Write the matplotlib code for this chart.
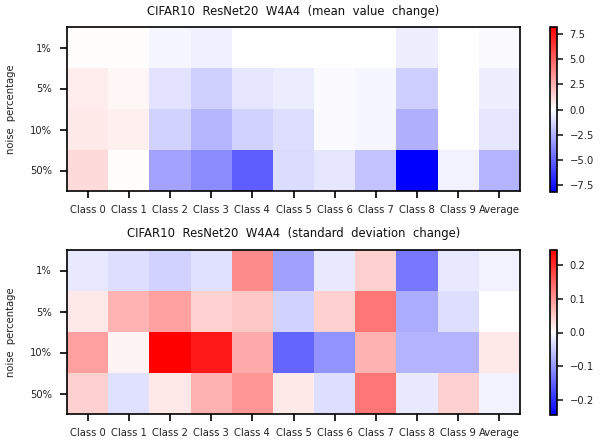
import numpy as np
import matplotlib
matplotlib.use("Agg")
import matplotlib.pyplot as plt

classes = ["Class 0", "Class 1", "Class 2", "Class 3", "Class 4", "Class 5",
           "Class 6", "Class 7", "Class 8", "Class 9", "Average"]
noise = ["1%", "5%", "10%", "50%"]

mean_1 = [0.1, 0.1, -0.3, -0.5, 0.0, 0.0, 0.0, 0.05, -0.55, 0.05, -0.15]
mean_5 = [0.6, 0.3, -0.87, -1.5, -0.8, -0.6, -0.15, -0.3, -1.6, 0.05, -0.55]
mean_10 = [0.65, 0.5, -1.45, -2.35, -1.45, -1.05, -0.15, -0.3, -2.5, 0.05, -0.8]
mean_50 = [1.2, 0.1, -2.9, -3.7, -5.15, -1.1, -0.8, -1.9, -8.2, -0.4, -2.4]

std_1 = [-0.022, -0.031, -0.043, -0.029, 0.11, -0.09, -0.022, 0.045, -0.129, -0.022, -0.012]
std_5 = [0.022, 0.071, 0.09, 0.043, 0.052, -0.043, 0.045, 0.13, -0.079, -0.031, 0.0]
std_10 = [0.09, 0.01, 0.243, 0.22, 0.081, -0.148, -0.102, 0.073, -0.071, -0.071, 0.022]
std_50 = [0.045, -0.029, 0.022, 0.073, 0.1, 0.019, -0.031, 0.13, -0.019, 0.045, -0.012]

mean_data = np.array([mean_1, mean_5, mean_10, mean_50])
std_data = np.array([std_1, std_5, std_10, std_50])

W, H = 611, 442
fig = plt.figure(figsize=(W / 100, H / 100), dpi=100)
FS = 7.2

def panel(data, title, ax_rect, cb_rect, ticks):
    ax = fig.add_axes(ax_rect)
    vmax = np.abs(data).max()
    im = ax.imshow(data, cmap="bwr", vmin=-vmax, vmax=vmax, aspect="auto",
                   interpolation="nearest")
    ax.set_xticks(range(len(classes)))
    ax.set_xticklabels(classes, fontsize=FS, color="#222222")
    ax.set_yticks(range(len(noise)))
    ax.set_yticklabels(noise, fontsize=FS, color="#222222")
    ax.set_ylabel("noise  percentage", fontsize=FS, color="#222222", labelpad=10)
    ax.set_title(title, fontsize=8.4, color="#111111", pad=9)
    for s in ax.spines.values():
        s.set_linewidth(1.2)
    ax.tick_params(axis="x", length=5, width=1.2, pad=5)
    ax.tick_params(axis="y", length=5, width=1.2, pad=6)
    cax = fig.add_axes(cb_rect)
    cb = fig.colorbar(im, cax=cax, ticks=ticks)
    cb.ax.tick_params(labelsize=FS, length=4, width=1.2, colors="#222222", pad=5)
    cb.outline.set_linewidth(1.2)
    return ax

panel(mean_data, "CIFAR10  ResNet20  W4A4  (mean  value  change)",
      [67 / W, 1 - 191 / H, (520 - 67) / W, (191 - 27) / H],
      [550 / W, 1 - 192 / H, 7 / W, (192 - 27) / H],
      [-7.5, -5.0, -2.5, 0.0, 2.5, 5.0, 7.5])
panel(std_data, "CIFAR10  ResNet20  W4A4  (standard  deviation  change)",
      [67 / W, 1 - 414 / H, (520 - 67) / W, (414 - 250) / H],
      [550 / W, 1 - 415 / H, 7 / W, (415 - 250) / H],
      [-0.2, -0.1, 0.0, 0.1, 0.2])

fig.savefig("out.png", dpi=100)
